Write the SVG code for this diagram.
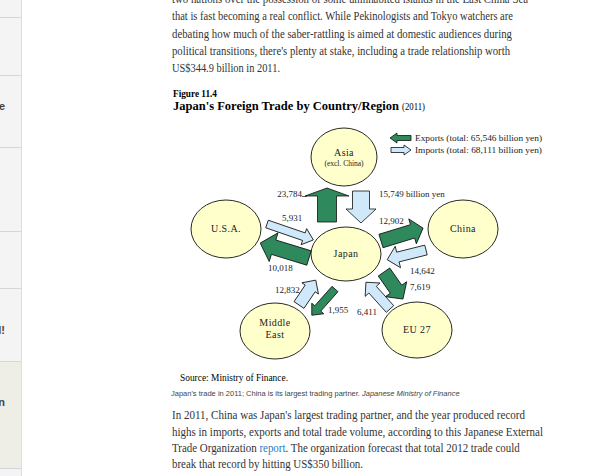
<svg xmlns="http://www.w3.org/2000/svg" width="600" height="476" viewBox="0 0 600 476">
<style>
.para{font-family:"Liberation Serif",serif;font-size:12.5px;fill:#333}
.side{font-family:"Liberation Sans",sans-serif;font-size:11px;font-weight:bold;fill:#444}
.fig{font-family:"Liberation Serif",serif;fill:#000}
.lbl{font-family:"Liberation Serif",serif;font-size:9px;fill:#222}
.node ellipse{fill:#ffffcc;stroke:#111;stroke-width:0.9}
.node text{font-family:"Liberation Serif",serif;font-size:10px;letter-spacing:0.4px;fill:#222;text-anchor:middle}
.exp{fill:#2e8a5c;stroke:#111;stroke-width:0.8}
.imp{fill:#cfe9fa;stroke:#111;stroke-width:0.8}
.cap{font-family:"Liberation Sans",sans-serif;font-size:7.5px;fill:#444}
.link{fill:#2b7bc0}
</style>
<rect width="600" height="476" fill="#fff"/>
<g id="sidebar">
<rect x="0" y="0" width="21" height="476" fill="#f4f4f4"/>
<rect x="0" y="362" width="21" height="106" fill="#efeee6"/>
<line x1="21.5" y1="0" x2="21.5" y2="476" stroke="#dedede"/>
<g stroke="#d6d6d6" stroke-width="1">
<line x1="0" y1="17.5" x2="21" y2="17.5"/>
<line x1="0" y1="75.5" x2="21" y2="75.5"/>
<line x1="0" y1="147.5" x2="21" y2="147.5"/>
<line x1="0" y1="231.5" x2="21" y2="231.5"/>
<line x1="0" y1="288.5" x2="21" y2="288.5"/>
<line x1="0" y1="361.5" x2="21" y2="361.5"/>
<line x1="0" y1="468.5" x2="21" y2="468.5"/>
</g>
<text class="side" x="5" y="110" text-anchor="end">e</text>
<text class="side" x="5" y="334" text-anchor="end">l!</text>
<text class="side" x="5" y="406" text-anchor="end">n</text>
</g>
<g id="top-text">
<text class="para" x="172" y="3" textLength="356" lengthAdjust="spacingAndGlyphs">two nations over the possession of some uninhabited islands in the East China Sea</text>
<text class="para" x="172" y="20" textLength="341" lengthAdjust="spacingAndGlyphs">that is fast becoming a real conflict. While Pekinologists and Tokyo watchers are</text>
<text class="para" x="172" y="38" textLength="340" lengthAdjust="spacingAndGlyphs">debating how much of the saber-rattling is aimed at domestic audiences during</text>
<text class="para" x="172" y="55" textLength="338" lengthAdjust="spacingAndGlyphs">political transitions, there's plenty at stake, including a trade relationship worth</text>
<text class="para" x="172" y="72" textLength="108" lengthAdjust="spacingAndGlyphs">US$344.9 billion in 2011.</text>
</g>
<g id="title">
<text class="fig" x="173" y="97" font-size="11" font-weight="bold" textLength="44" lengthAdjust="spacingAndGlyphs">Figure 11.4</text>
<text class="fig" x="173" y="110" font-size="11.5" font-weight="bold" textLength="226" lengthAdjust="spacingAndGlyphs">Japan's Foreign Trade by Country/Region</text>
<text class="fig" x="402" y="110" font-size="11" textLength="23" lengthAdjust="spacingAndGlyphs">(2011)</text>
</g>
<g id="legend">
<path class="exp" d="M0,-2.5H14V-5L21,0L14,5V2.5H0Z" transform="translate(411,138) rotate(180)"/>
<path class="imp" d="M0,-2.5H13V-5L20,0L13,5V2.5H0Z" transform="translate(391,150)"/>
<text class="lbl" x="415" y="141" textLength="127" lengthAdjust="spacingAndGlyphs">Exports (total: 65,546 billion yen)</text>
<text class="lbl" x="415" y="153" textLength="127" lengthAdjust="spacingAndGlyphs">Imports (total: 68,111 billion yen)</text>
</g>
<g id="connectors">
<path class="exp" d="M0,-9.5H26V-22L34,0L26,22V9.5H0Z" transform="translate(327,222) rotate(-90)"/>
<path class="imp" d="M0,-8.5H18V-15L32,0L18,15V8.5H0Z" transform="translate(361,191) rotate(90)"/>
<path class="imp" d="M0,-4H39V-8.5L49,0L39,8.5V4H0Z" transform="translate(267,224) rotate(19)"/>
<path class="exp" d="M0,-7.5H37V-15L51,0L37,15V7.5H0Z" transform="translate(309,258) rotate(197)"/>
<path class="exp" d="M0,-7H33V-13L44,0L33,13V7H0Z" transform="translate(381,241) rotate(-17)"/>
<path class="imp" d="M0,-5H29V-11L40,0L29,11V5H0Z" transform="translate(426,250) rotate(166)"/>
<path class="exp" d="M0,-7H21V-13L33,0L21,13V7H0Z" transform="translate(384,272) rotate(55)"/>
<path class="imp" d="M0,-5H26V-10L36,0L26,10V5H0Z" transform="translate(390,309) rotate(228)"/>
<path class="imp" d="M0,-6H20V-10L30,0L20,10V6H0Z" transform="translate(299,305) rotate(-56)"/>
<path class="exp" d="M0,-4H26V-8L35,0L26,8V4H0Z" transform="translate(335,289) rotate(131.5)"/>
<line x1="302" y1="196.5" x2="307" y2="196.5" stroke="#333" stroke-width="0.8"/>
</g>
<g id="labels">
<text class="lbl" x="302" y="197" text-anchor="end">23,784</text>
<text class="lbl" x="379" y="197">15,749 billion yen</text>
<text class="lbl" x="282" y="221">5,931</text>
<text class="lbl" x="379" y="224">12,902</text>
<text class="lbl" x="268" y="271">10,018</text>
<text class="lbl" x="410" y="274">14,642</text>
<text class="lbl" x="410" y="290">7,619</text>
<text class="lbl" x="275" y="293">12,832</text>
<text class="lbl" x="328" y="313">1,955</text>
<text class="lbl" x="357" y="315">6,411</text>
</g>
<g id="node-asia" class="node">
<ellipse cx="344" cy="157" rx="33" ry="29"/>
<text x="344" y="156">Asia</text>
<text x="344" y="166" style="font-size:7.5px;letter-spacing:0">(excl. China)</text>
</g>
<g id="node-usa" class="node">
<ellipse cx="226" cy="229" rx="35" ry="29"/>
<text x="226" y="232">U.S.A.</text>
</g>
<g id="node-japan" class="node">
<ellipse cx="346" cy="254" rx="35" ry="27"/>
<text x="346" y="257">Japan</text>
</g>
<g id="node-china" class="node">
<ellipse cx="463" cy="229" rx="35" ry="29"/>
<text x="463" y="232">China</text>
</g>
<g id="node-middle-east" class="node">
<ellipse cx="275" cy="331" rx="35" ry="28"/>
<text x="275" y="326">Middle</text>
<text x="275" y="338">East</text>
</g>
<g id="node-eu27" class="node">
<ellipse cx="417" cy="330" rx="35" ry="28"/>
<text x="417" y="333">EU 27</text>
</g>
<g id="caption">
<text class="fig" x="180" y="381" font-size="9.5" textLength="108" lengthAdjust="spacingAndGlyphs">Source:  Ministry of Finance.</text>
<text class="cap" x="171" y="396">Japan's trade in 2011; China is its largest trading partner.  <tspan font-style="italic">Japanese Ministry of Finance</tspan></text>
</g>
<g id="bottom-text">
<text class="para" x="172" y="419" textLength="353" lengthAdjust="spacingAndGlyphs">In 2011, China was Japan's largest trading partner, and the year produced record</text>
<text class="para" x="172" y="436" textLength="371" lengthAdjust="spacingAndGlyphs">highs in imports, exports and total trade volume, according to this Japanese External</text>
<text class="para" x="0" y="0" transform="translate(172,452) scale(0.875,1)">Trade Organization <tspan class="link">report</tspan>. The organization forecast that total 2012 trade could</text>
<text class="para" x="172" y="468" textLength="191" lengthAdjust="spacingAndGlyphs">break that record by hitting US$350 billion.</text>
</g>
</svg>
